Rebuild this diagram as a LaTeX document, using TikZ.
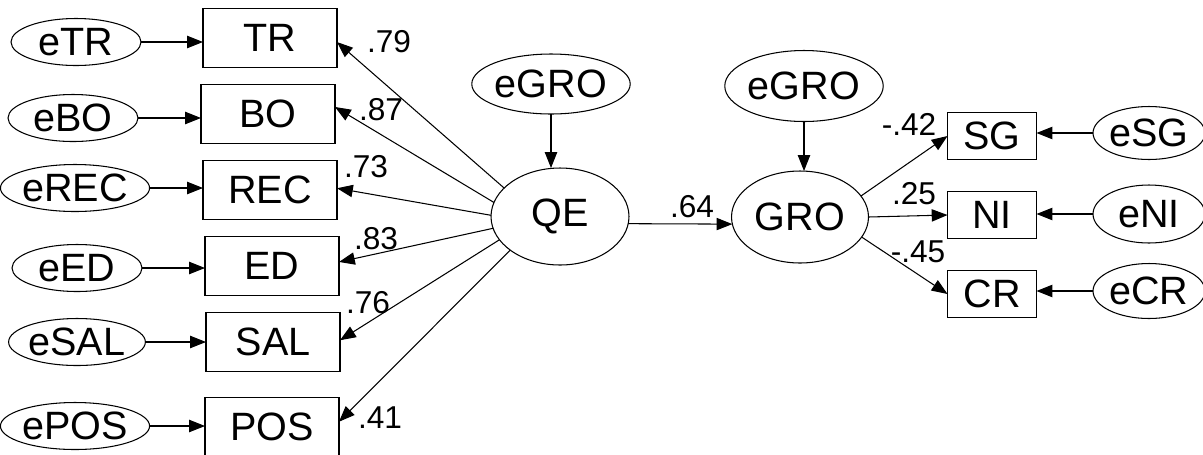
\documentclass[tikz,border=0pt]{standalone}
\usepackage{fontspec}
\setmainfont{Liberation Sans}
\usetikzlibrary{arrows.meta,shapes.geometric}
\begin{document}
\begin{tikzpicture}[x=0.02cm,y=-0.02cm,
  every node/.style={inner sep=0pt, outer sep=0pt},
  obs/.style={draw, line width=0.6pt, rectangle, font=\fontsize{22.5}{26}\selectfont},
  lat/.style={draw, line width=0.6pt, ellipse, font=\fontsize{22.5}{26}\selectfont},
  lbl/.style={font=\fontsize{18}{21}\selectfont},
  arr/.style={line width=0.6pt, -{Triangle[length=9pt,width=7pt]}},
  lbox/.style={obs, minimum width=2.68cm, minimum height=1.18cm},
  rbox/.style={obs, minimum width=1.78cm, minimum height=0.94cm},
  lerr/.style={lat, minimum width=2.6cm, minimum height=0.94cm},
]
\clip (0,0) rectangle (1203,454);
\fill[white] (0,0) rectangle (1203,454);

% left observed
\node[lbox] (TR)  at (270,38)  {TR};
\node[lbox] (BO)  at (268,114) {BO};
\node[lbox] (REC) at (270,190) {REC};
\node[lbox] (ED)  at (272,266) {ED};
\node[lbox] (SAL) at (273,342) {SAL};
\node[lbox] (POS) at (272,427) {POS};

% left errors
\node[lerr] (eTR)  at (76,42)  {eTR};
\node[lerr] (eBO)  at (73,118) {eBO};
\node[lerr] (eREC) at (75,188) {eREC};
\node[lerr] (eED)  at (77,268) {eED};
\node[lerr] (eSAL) at (77,342) {eSAL};
\node[lerr] (ePOS) at (75,426) {ePOS};

% latent
\node[lat, minimum width=2.76cm, minimum height=1.94cm] (QE)  at (560,216.5) {QE};
\node[lat, minimum width=2.74cm, minimum height=1.84cm] (GRO) at (800,217) {GRO};
\node[lat, minimum width=2.9cm, minimum height=1.2cm] (eGROa) at (551,84) {eGRO};
\node[lat, minimum width=2.9cm, minimum height=1.42cm] (eGROb) at (804,86) {eGRO};

% right observed
\node[rbox] (SG) at (992,136) {SG};
\node[rbox] (NI) at (992,215) {NI};
\node[rbox] (CR) at (992,294) {CR};

% right errors
\node[lat, minimum width=2.24cm, minimum height=1.06cm] (eSG) at (1149,133) {eSG};
\node[lat, minimum width=2.24cm, minimum height=1.16cm] (eNI) at (1149,214) {eNI};
\node[lat, minimum width=2.24cm, minimum height=1.1cm]  (eCR) at (1149,291) {eCR};

% error arrows left
\foreach \e/\o in {eTR/TR,eBO/BO,eREC/REC,eED/ED,eSAL/SAL,ePOS/POS}
  \draw[arr] (\e.east) -- (\e.east -| \o.west);

% error arrows right
\foreach \e/\o in {eSG/SG,eNI/NI,eCR/CR}
  \draw[arr] (\e.west) -- (\e.west -| \o.east);

% disturbance arrows
\draw[arr] (eGROa.south) -- (eGROa.south |- QE.north);
\draw[arr] (eGROb.south) -- (eGROb.south |- GRO.north);

% loadings QE
\draw[arr] (QE.153) -- ([yshift=-2.3pt]TR.east);
\draw[arr] (QE.168) -- ([yshift=4pt]BO.east);
\draw[arr] (QE.179) -- ([yshift=1pt]REC.east);
\draw[arr] (QE.190) -- ([yshift=2.3pt]ED.east);
\draw[arr] (QE.201) -- ([yshift=1pt]SAL.east);
\draw[arr] (QE.214) -- ([yshift=3pt]POS.east);

% structural
\draw[arr] (QE.-6) -- (GRO.186);

% loadings GRO
\draw[arr] (GRO.19) -- (SG.west);
\draw[arr] (GRO.east) -- (NI.west);
\draw[arr] (GRO.-18) -- (CR.west);

% labels
\node[lbl] (l79) at (389,42)  {.79};
\node[lbl] (l87) at (381,110) {.87};
\node[lbl] (l73) at (366,167) {.73};
\node[lbl] (l83) at (376,239) {.83};
\node[lbl] (l76) at (368,303) {.76};
\node[lbl] (l41) at (380,418) {.41};
\node[lbl] (l64) at (692,207) {.64};
\node[lbl] (l42) at (909,124) {-.42};
\node[lbl] (l25) at (914,194) {.25};
\node[lbl] (l45) at (918,252) {-.45};
\end{tikzpicture}
\end{document}
